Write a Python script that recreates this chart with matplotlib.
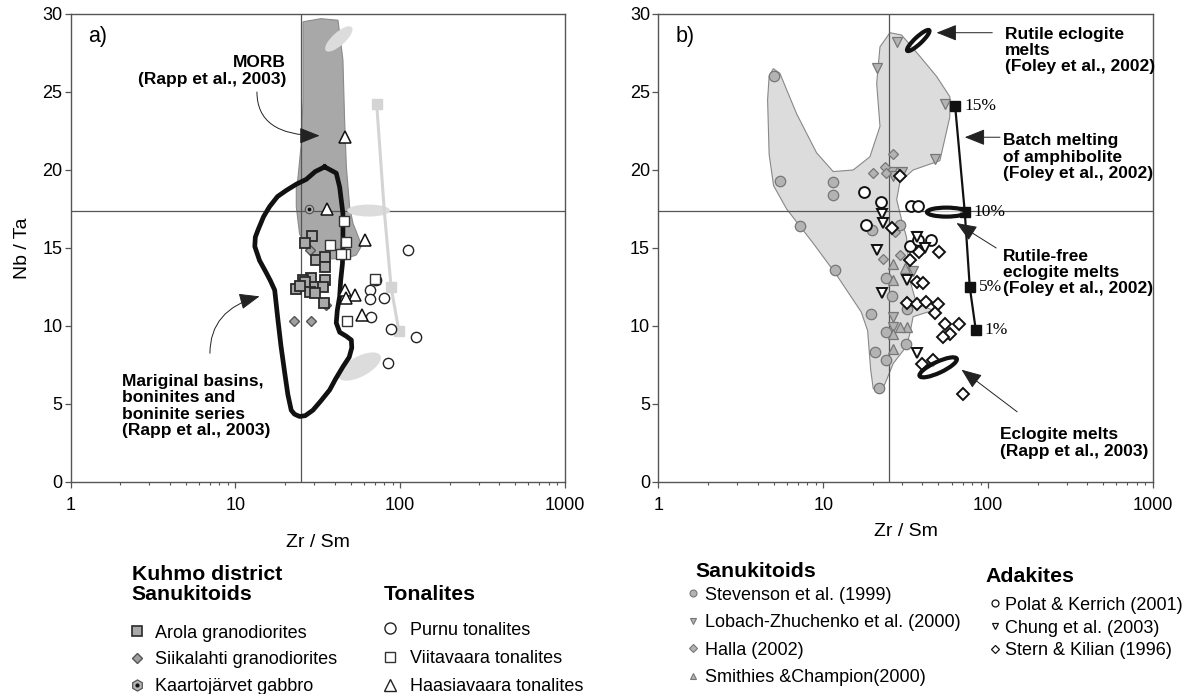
import numpy as np
import matplotlib
matplotlib.use('Agg')
import matplotlib.pyplot as plt
import matplotlib.transforms as mtransforms
from matplotlib.patches import Ellipse, Polygon
from matplotlib.lines import Line2D
from matplotlib.ticker import LogLocator, NullFormatter

plt.rcParams['font.family'] = ['Liberation Sans', 'DejaVu Sans']

# ---------------- panel a data ----------------
morb_x = [25.7, 33, 41.9, 44.9, 45.9, 47.1, 49.3, 51.6, 56.7, 58, 54.1, 47.1, 38, 31, 28.2, 24.5, 23.4, 23.4, 23.9, 25.1, 25.7]
morb_y = [29.5, 29.7, 29.6, 27.05, 23.4, 20.2, 17.65, 16.6, 15.5, 15.1, 14.55, 14.34, 14.3, 14.4, 14.66, 15.9, 17.65, 18.9, 19.4, 21.7, 24.5]

marg_x = [34.8, 40.9, 42.9, 44.9, 44.9, 44.6, 43.5, 42.9, 41.5, 40.9, 42.9, 47, 50.5, 50.8, 49, 44.9, 40.5, 37.3, 33, 29.5,
          26.5, 24.5, 22.8, 21.8, 20.8, 19.9, 18.9, 18.1, 17.3, 16.3, 15.4, 14.0, 13.1, 13.2, 13.7, 14.8, 16.1, 18.0, 20.4,
          23.5, 26.9, 30.5, 34.8]
marg_y = [20.2, 19.8, 18.9, 17.2, 15.5, 14.0, 12.9, 11.9, 11.0, 10.2, 9.6, 9.35, 9.1, 8.6, 8.0, 7.39, 6.6, 5.9, 5.2, 4.6,
          4.25, 4.2, 4.35, 4.6, 5.6, 7.0, 8.7, 10.4, 12.3, 12.9, 13.4, 14.2, 15.1, 15.7, 16.15, 17.0, 17.65, 18.3, 18.7,
          19.1, 19.4, 19.9, 20.2]

# light grey trend (Viitavaara series)
trend_x = [72, 80, 88, 98]
trend_y = [24.2, 17.4, 12.5, 9.7]
trend_mark_x = [72, 88, 98]
trend_mark_y = [24.2, 12.5, 9.7]

# light grey fields: centre x, centre y, width (in), height (in), angle
lightell_x = [42.4, 64.3, 56.7]
lightell_y = [28.4, 17.4, 7.4]
lightell_w = [0.35, 0.43, 0.47]
lightell_h = [0.13, 0.12, 0.20]
lightell_a = [42, 0, 28]

arola_x = [29.3, 26.3, 31.0, 35.1, 35.1, 28.9, 25.7, 35.1, 23.4, 26.6, 30.2, 34.0, 28.2, 30.2, 34.3, 24.8]
arola_y = [15.8, 15.35, 14.2, 14.4, 13.8, 13.05, 12.95, 12.95, 12.4, 12.85, 12.5, 12.5, 12.15, 12.1, 11.5, 12.55]
siika_x = [28.2, 22.7, 28.9, 35.6]
siika_y = [14.9, 10.35, 10.35, 11.35]
kaarto_x = [27.9]
kaarto_y = [17.5]
purnu_x = [111, 71.6, 65.2, 65.5, 79.2, 66.1, 87.4, 125, 84.1]
purnu_y = [14.9, 12.95, 12.3, 11.7, 11.8, 10.6, 9.8, 9.3, 7.65]
viita_x = [45.3, 37.3, 47.1, 46.4, 43.4, 69.9, 47.5]
viita_y = [16.75, 15.2, 15.4, 14.6, 14.6, 13.0, 10.3]
haasia_x = [46.4, 36.1, 60.8, 46.4, 52.9, 47.1, 58.9]
haasia_y = [22.1, 17.5, 15.5, 12.3, 12.0, 11.8, 10.7]

# ---------------- panel b data ----------------
field_x = [4.98, 5.46, 6.9, 9.12, 11.5, 15.2, 19.2, 22.1, 21.1, 22.1, 25.4, 29.9, 38.5, 48.7, 58.6, 58.6, 51, 35.1, 29.2,
           27.9, 29.9, 32.0, 33.5, 36.8, 46.4, 35.1, 33.5, 32.0, 26.6, 23.7, 22.1, 20.1, 19.4, 18.6, 17.0, 12.0, 8.7,
           6.0, 5.0, 4.7, 4.6, 4.7]
field_y = [26.5, 26.2, 23.6, 21.1, 19.9, 20.0, 20.85, 22.8, 25.55, 27.9, 28.8, 28.65, 27.3, 26.0, 24.7, 23.4, 20.6, 20.0,
           19.25, 18.1, 16.8, 15.7, 12.95, 11.45, 11.0, 10.6, 9.5, 8.7, 7.6, 6.3, 5.7, 6.0, 7.2, 9.7, 10.9, 13.3, 15.3,
           17.5, 19.0, 21.0, 24.5, 26.0]

stev_x = [5.0, 5.46, 7.2, 11.4, 11.5, 11.8, 19.4, 20.6, 21.8, 24.2, 26.3, 23.9, 31.7, 24.2, 29.2, 19.9, 32.4]
stev_y = [26.0, 19.3, 16.4, 19.25, 18.4, 13.6, 10.8, 8.35, 6.05, 13.1, 11.95, 9.6, 8.85, 7.8, 16.5, 16.15, 11.07]
lobach_x = [27.9, 21.1, 54.9, 47.5, 26.0, 29.9, 26.6, 26.6, 26.6, 35.1, 36.8]
lobach_y = [28.2, 26.55, 24.2, 20.7, 19.9, 19.9, 19.6, 10.6, 9.96, 13.5, 15.8]
halla_x = [26.6, 23.7, 20.1, 23.1, 29.2, 27.2, 24.2]
halla_y = [21.0, 20.2, 19.8, 14.3, 14.55, 16.05, 19.8]
smith_x = [26.6, 26.6, 32.0, 29.2, 26.6, 26.6, 31.3]
smith_y = [14.0, 12.95, 9.96, 9.96, 9.5, 8.5, 13.7]

polat_x = [17.6, 22.5, 34.3, 37.7, 18.3, 33.5, 37.7, 44.8]
polat_y = [18.6, 17.97, 17.7, 17.7, 16.5, 15.1, 15.5, 15.5]
chung_x = [22.6, 23.1, 21.1, 22.6, 32.0, 36.8, 41.3, 37.2]
chung_y = [17.2, 16.6, 14.9, 12.1, 12.95, 15.7, 15.0, 8.3]
stern_x = [29.2, 26.0, 33.5, 38.2, 50.5, 36.8, 40.4, 32.4, 37.2, 42.3, 49.8, 47.5, 54.7, 66.7, 58.6, 52.9, 39.5, 46.4, 70]
stern_y = [19.6, 16.3, 14.2, 14.75, 14.75, 12.85, 12.75, 11.5, 11.4, 11.55, 11.4, 10.85, 10.1, 10.1, 9.5, 9.3, 7.56, 7.8, 5.64]

batch_x = [63.1, 72.2, 77.4, 84.2]
batch_y = [24.1, 17.3, 12.5, 9.74]
batch_lbl = ['15%', '10%', '5%', '1%']

# eclogite melt fields: centre x, centre y, width (in), height (in), angle
ecl_x = [37.7, 55.9, 49.8]
ecl_y = [28.3, 17.3, 7.35]
ecl_w = [0.30, 0.39, 0.41]
ecl_h = [0.07, 0.09, 0.11]
ecl_a = [43, 0, 25]

ZR_SM_REF = 25
NB_TA_REF = 17.4

fig = plt.figure(figsize=(11.85, 6.94), dpi=100)
axa = fig.add_axes([0.05966, 0.30548, 0.41713, 0.67435])
axb = fig.add_axes([0.55553, 0.30548, 0.41747, 0.67435])


def ellipse(ax, x, y, w, h, ang, **kw):
    tr = fig.dpi_scale_trans + mtransforms.ScaledTranslation(x, y, ax.transData)
    e = Ellipse((0, 0), w, h, angle=ang, transform=tr, **kw)
    ax.add_patch(e)


def arrow(ax, start, end, conn='arc3,rad=0'):
    ax.annotate('', xy=end, xytext=start,
                arrowprops=dict(arrowstyle='-|>,head_length=0.9,head_width=0.36', color='#222', lw=0.7,
                                shrinkA=0, shrinkB=0, mutation_scale=14, connectionstyle=conn),
                zorder=6)


for ax in (axa, axb):
    ax.set_xscale('log')
    ax.set_xlim(1, 1000)
    ax.set_ylim(0, 30)
    ax.set_xticks([1, 10, 100, 1000])
    ax.set_xticklabels(['1', '10', '100', '1000'])
    ax.xaxis.set_minor_locator(LogLocator(base=10, subs=np.arange(2, 10)))
    ax.xaxis.set_minor_formatter(NullFormatter())
    ax.set_yticks(np.arange(0, 31, 5))
    ax.tick_params(which='major', direction='out', length=4, width=0.9, color='#555', labelsize=13,
                   top=False, right=False)
    ax.tick_params(which='minor', direction='out', length=2.4, width=0.8, color='#555', top=False)
    ax.tick_params(axis='x', which='major', pad=7)
    ax.tick_params(axis='y', which='major', pad=2)
    for s in ax.spines.values():
        s.set_color('#555')
        s.set_linewidth(1.0)
    ax.axvline(ZR_SM_REF, color='#555', lw=0.9, zorder=2)
    ax.axhline(NB_TA_REF, color='#555', lw=0.9, zorder=2)

axa.set_xlabel('Zr / Sm', fontsize=14, labelpad=14)
axb.set_xlabel('Zr / Sm', fontsize=14, labelpad=6)
axa.set_ylabel('Nb / Ta', fontsize=14, labelpad=8)

# ---------------- panel a ----------------
axa.add_patch(Polygon(np.column_stack([morb_x, morb_y]), closed=True, fc='#a8a8a8', ec='#8a8a8a', lw=0.8, zorder=1))
for x, y, w, h, a in zip(lightell_x, lightell_y, lightell_w, lightell_h, lightell_a):
    ellipse(axa, x, y, w, h, a, fc='#dcdcdc', ec='none', zorder=3)
axa.plot(trend_x, trend_y, color='#d4d4d4', lw=2.2, zorder=3)
axa.plot(trend_mark_x, trend_mark_y, ls='none', marker='s', ms=7, mfc='#d4d4d4', mec='#d4d4d4', zorder=3)
axa.plot(marg_x, marg_y, color='#111', lw=3.4, solid_joinstyle='round', zorder=4)

axa.plot(siika_x, siika_y, ls='none', marker='D', ms=5.4, mfc='#a0a0a0', mec='#555', mew=1.0, zorder=5)
axa.plot(arola_x, arola_y, ls='none', marker='s', ms=6.8, mfc='#a9a9a9', mec='#2a2a2a', mew=1.3, zorder=5)
axa.plot(kaarto_x, kaarto_y, ls='none', marker='o', ms=6, mfc='#b5b5b5', mec='#555', mew=0.9, zorder=5)
axa.plot(kaarto_x, kaarto_y, ls='none', marker='o', ms=1.8, mfc='#111', mec='#111', zorder=5)
axa.plot(purnu_x, purnu_y, ls='none', marker='o', ms=7.4, mfc='white', mec='#222', mew=1.0, zorder=5)
axa.plot(viita_x, viita_y, ls='none', marker='s', ms=6.6, mfc='white', mec='#333', mew=1.0, zorder=5)
axa.plot(haasia_x, haasia_y, ls='none', marker='^', ms=8, mfc='white', mec='#111', mew=1.1, zorder=5)

axa.text(0.035, 0.951, 'a)', transform=axa.transAxes, fontsize=15.5, va='center', ha='left')
axa.text(0.4356, 0.8776, 'MORB\n(Rapp et al., 2003)', transform=axa.transAxes, fontsize=12.5, fontweight='bold',
         ha='right', va='center', multialignment='right', linespacing=1.15)
arrow(axa, (13.5, 25.0), (32.4, 22.2), 'angle3,angleA=-90,angleB=0')
axa.text(0.1032, 0.1626, 'Mariginal basins,\nboninites and\nboninite series\n(Rapp et al., 2003)',
         transform=axa.transAxes, fontsize=12.5, fontweight='bold', ha='left', va='center', linespacing=1.1)
arrow(axa, (7.0, 8.25), (14.0, 11.9), 'angle3,angleA=90,angleB=15')

# ---------------- panel b ----------------
axb.add_patch(Polygon(np.column_stack([field_x, field_y]), closed=True, fc='#dcdcdc', ec='#888', lw=0.8, zorder=1))
gray = dict(ls='none', mfc='#b3b3b3', mec='#777', mew=0.9, zorder=3)
axb.plot(stev_x, stev_y, marker='o', ms=7.5, **gray)
axb.plot(lobach_x, lobach_y, marker='v', ms=7.5, **gray)
axb.plot(halla_x, halla_y, marker='D', ms=5.4, **gray)
axb.plot(smith_x, smith_y, marker='^', ms=7.2, **gray)
opn = dict(ls='none', mfc='white', mec='#111', mew=1.4, zorder=4)
axb.plot(polat_x, polat_y, marker='o', ms=7.8, **opn)
axb.plot(chung_x, chung_y, marker='v', ms=7.5, **opn)
axb.plot(stern_x, stern_y, marker='D', ms=6, **opn)

axb.plot(batch_x, batch_y, color='#111', lw=1.6, marker='s', ms=6.5, mfc='#111', mec='#111', zorder=5)
for x, y, t in zip(batch_x, batch_y, batch_lbl):
    axb.annotate(t, (x, y), xytext=(6.5, 0), textcoords='offset points', va='center', ha='left',
                 fontsize=12.5, family=['Liberation Serif', 'DejaVu Serif'], zorder=6)

for x, y, w, h, a in zip(ecl_x, ecl_y, ecl_w, ecl_h, ecl_a):
    ellipse(axb, x, y, w, h, a, fc=(1, 1, 1, 0.6), ec='#111', lw=3.0, zorder=5)

axb.text(0.035, 0.951, 'b)', transform=axb.transAxes, fontsize=15.5, va='center', ha='left')
bold = dict(transform=axb.transAxes, fontsize=12.5, fontweight='bold', ha='left', va='center', linespacing=1.1)
axb.text(0.7008, 0.9214, 'Rutile eclogite\nmelts\n(Foley et al., 2002)', **bold)
arrow(axb, (106, 28.8), (48.7, 28.8))
axb.text(0.6968, 0.6944, 'Batch melting\nof amphibolite\n(Foley et al., 2002)', **bold)
arrow(axb, (118, 22.1), (72.2, 22.1))
axb.text(0.697, 0.448, 'Rutile-free\neclogite melts\n(Foley et al., 2002)', **bold)
arrow(axb, (112, 15.0), (64.3, 16.6))
axb.text(0.69, 0.0833, 'Eclogite melts\n(Rapp et al., 2003)', **bold)
arrow(axb, (150, 4.5), (69, 7.2))

# ---------------- legends ----------------
W, H = 1185.0, 694.0


def fx(px):
    return px / W


def fy(py):
    return 1 - py / H


hdr = dict(fontsize=15.3, fontweight='bold', ha='left', va='center', linespacing=1.08)
fig.text(fx(131.7), fy(584.5), 'Kuhmo district\nSanukitoids', **hdr)
fig.text(fx(383.3), fy(595), 'Tonalites', **hdr)
fig.text(fx(695), fy(571.7), 'Sanukitoids', **hdr)
fig.text(fx(985), fy(576.7), 'Adakites', **hdr)

leg_kw = dict(loc='upper left', frameon=False, fontsize=13, borderpad=0, borderaxespad=0)

h1 = [Line2D([], [], ls='none', marker='s', ms=7, mfc='#a9a9a9', mec='#2a2a2a', mew=1.2),
      Line2D([], [], ls='none', marker='D', ms=5.5, mfc='#a0a0a0', mec='#555', mew=1.0),
      (Line2D([], [], ls='none', marker='h', ms=8, mfc='#b5b5b5', mec='#555', mew=0.9),
       Line2D([], [], ls='none', marker='o', ms=2, mfc='#111', mec='#111'))]
fig.legend(h1, ['Arola granodiorites', 'Siikalahti granodiorites', 'Kaartojärvet gabbro'],
           bbox_to_anchor=(fx(127.7), fy(624.5)), handlelength=1.0, handletextpad=0.52, labelspacing=0.54, **leg_kw)

h2 = [Line2D([], [], ls='none', marker='o', ms=8, mfc='white', mec='#222', mew=1.0),
      Line2D([], [], ls='none', marker='s', ms=6.5, mfc='white', mec='#333', mew=1.0),
      Line2D([], [], ls='none', marker='^', ms=9, mfc='white', mec='#222', mew=1.0)]
fig.legend(h2, ['Purnu tonalites', 'Viitavaara tonalites', 'Haasiavaara tonalites'],
           bbox_to_anchor=(fx(381), fy(621.8)), handlelength=1.0, handletextpad=0.6, labelspacing=0.62, **leg_kw)

h3 = [Line2D([], [], ls='none', marker='o', ms=5, mfc='#b3b3b3', mec='#777', mew=0.8),
      Line2D([], [], ls='none', marker='v', ms=5, mfc='#b3b3b3', mec='#777', mew=0.8),
      Line2D([], [], ls='none', marker='D', ms=3.8, mfc='#b3b3b3', mec='#777', mew=0.8),
      Line2D([], [], ls='none', marker='^', ms=5, mfc='#b3b3b3', mec='#777', mew=0.8)]
fig.legend(h3, ['Stevenson et al. (1999)', 'Lobach-Zhuchenko et al. (2000)', 'Halla (2002)', 'Smithies &Champion(2000)'],
           bbox_to_anchor=(fx(686.1), fy(586.8)), handlelength=0.8, handletextpad=0.25, labelspacing=0.58, **leg_kw)

h4 = [Line2D([], [], ls='none', marker='o', ms=5, mfc='white', mec='#111', mew=0.9),
      Line2D([], [], ls='none', marker='v', ms=5, mfc='white', mec='#111', mew=0.9),
      Line2D([], [], ls='none', marker='D', ms=3.8, mfc='white', mec='#111', mew=0.9)]
fig.legend(h4, ['Polat & Kerrich (2001)', 'Chung et al. (2003)', 'Stern & Kilian (1996)'],
           bbox_to_anchor=(fx(987.8), fy(596.8)), handlelength=0.8, handletextpad=0.16, labelspacing=0.32, **leg_kw)

fig.savefig('out.png', dpi=100)
